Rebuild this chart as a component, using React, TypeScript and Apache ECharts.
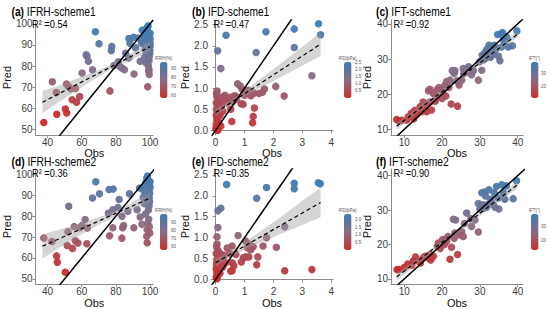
import React, { useEffect, useRef } from "react";
import * as echarts from "echarts";

const FONT = "'Liberation Sans', Arial, sans-serif";

// ---------- data (Obs, Pred) ----------
const pointsA = [[37.8,53.2],[42.8,72.5],[45.4,57.1],[45.2,67.4],[50.4,59.6],[51.2,57.7],[51.1,71.5],[52.2,70.3],[53.5,69.2],[54.4,64.0],[56.3,69.3],[57.0,62.8],[58.8,65.5],[60.2,76.7],[62.6,85.3],[63.1,84.6],[63.9,82.3],[66.3,78.2],[68.0,96.2],[70.1,90.6],[76.5,68.2],[77.3,87.3],[77.6,89.3],[78.9,80.2],[81.4,82.0],[82.3,79.8],[83.5,79.0],[85.0,78.2],[85.7,86.0],[87.5,83.8],[87.6,93.0],[88.2,90.8],[90.6,76.2],[90.4,93.6],[91.5,88.6],[93.2,93.3],[94.2,82.2],[95.0,90.8],[95.4,97.0],[96.3,91.5],[96.5,93.5],[97.0,95.0],[97.5,96.5],[98.0,97.5],[98.5,98.2],[99.0,96.0],[99.2,94.0],[99.5,92.5],[99.6,90.5],[99.7,89.0],[99.8,87.5],[99.8,86.0],[99.5,84.5],[99.4,82.5],[99.0,80.0],[99.3,78.5],[99.2,77.5],[99.5,76.0],[98.6,70.2],[97.5,81.5],[96.8,84.0],[97.2,88.0],[98.0,92.0],[98.8,99.0],[100,95.5],[100,93],[100,91],[100,89.5],[97.8,86.0],[98.7,83]];
const pointsB = [[0.36,2.25],[0.07,1.88],[0.18,1.46],[1.74,2.33],[1.4,1.84],[2.72,2.40],[2.72,1.96],[3.56,2.52],[3.63,2.26],[3.33,1.29],[2.08,1.04],[2.37,0.81],[1.69,0.98],[1.62,0.90],[1.50,0.87],[0.76,1.10],[0.85,1.05],[0.92,0.97],[1.13,0.95],[1.06,0.90],[1.00,0.83],[1.22,0.82],[1.32,0.88],[0.88,0.63],[1.34,0.53],[1.30,0.33],[1.28,0.18],[0.56,0.21],[0.52,0.50],[0.32,0.83],[0.44,0.77],[0.55,0.79],[0.66,0.82],[0.27,0.75],[0.15,0.70],[0.05,0.93],[0.03,0.88],[0.04,0.80],[0.08,0.72],[0.02,0.65],[0.06,0.60],[0.1,0.55],[0.03,0.50],[0.12,0.45],[0.05,0.40],[0.02,0.35],[0.08,0.30],[0.04,0.25],[0.1,0.20],[0.02,0.15],[0.06,0.10],[0.01,0.05],[0.03,0.02],[0.12,0.62],[0.2,0.58],[0.22,0.78],[0.6,0.68],[0.72,0.74],[0.95,0.62],[0.15,0.35],[0.25,0.45],[0.18,0.1],[0.08,0.0],[0.7,0.8],[0.4,0.65]];
const pointsC = [[8.0,12.8],[8.6,12.4],[9.3,12.6],[10.6,12.7],[11.1,13.6],[11.9,14.6],[12.5,13.0],[12.8,15.4],[13.3,14.2],[14.2,16.4],[14.5,15.0],[15.0,17.8],[15.7,16.4],[15.9,15.0],[16.4,21.0],[16.8,21.4],[16.8,17.8],[17.2,15.5],[17.7,20.2],[18.2,18.0],[18.6,19.3],[18.8,21.4],[19.2,21.9],[19.9,21.4],[20.3,20.2],[20.8,22.6],[21.2,23.6],[21.8,21.9],[22.1,24.0],[22.4,17.2],[22.7,26.7],[23.2,25.9],[23.4,26.7],[23.9,23.8],[24.1,16.6],[24.5,22.6],[25.2,24.0],[25.6,27.3],[25.7,25.9],[26.1,26.1],[27.0,27.8],[27.8,25.5],[28.3,26.7],[29.6,24.0],[29.9,29.2],[30.5,26.8],[30.6,31.1],[31.0,29.8],[31.3,31.7],[31.8,32.7],[32.2,32.1],[32.4,33.9],[32.8,30.5],[33.1,33.4],[33.6,31.5],[33.8,33.9],[34.2,32.7],[34.7,37.0],[34.9,30.8],[35.3,29.5],[35.6,37.2],[35.7,33.4],[36.0,37.5],[36.5,34.9],[37.1,36.3],[37.5,33.4],[38.6,33.8],[39.8,38.0],[31.5,30.2],[33.0,31.0],[36.2,35.5],[21.0,19.5],[20.0,18.8]];
const pointsD = [[37.8,69.6],[42.6,67.9],[45.3,61.0],[45.7,58.0],[50.4,53.2],[51.9,72.6],[52.4,84.8],[51.5,66.0],[54.6,64.6],[55.6,75.0],[56.2,68.3],[57.8,67.2],[58.9,74.6],[60.2,75.6],[62.0,78.4],[63.0,66.8],[63.3,74.3],[66.3,88.7],[68.2,96.5],[70.4,90.7],[76.0,92.8],[78.4,93.0],[76.3,70.6],[75.6,81.4],[78.2,83.1],[78.2,74.5],[81.9,88.0],[81.2,84.2],[83.5,80.0],[83.9,74.5],[83.5,69.5],[84.5,75.5],[87.9,90.7],[87.0,82.4],[90.5,74.5],[92.4,83.1],[93.9,93.5],[94.2,79.6],[95.2,76.1],[96.0,89.0],[96.5,92.0],[97.0,94.5],[97.5,96.0],[98.0,98.0],[98.5,99.2],[99.0,97.0],[99.3,95.0],[99.6,93.0],[99.8,91.0],[99.5,89.0],[99.7,87.0],[99.4,85.0],[99.0,83.0],[98.3,67.3],[98.0,70.4],[98.3,73.5],[98.6,76.6],[99.2,78.5],[99.6,75.0],[99.8,72.0],[97.3,81.0],[96.8,86.0],[98.8,90.0],[100,94.0],[100,96.5],[97.8,88.5]];
const pointsE = [[0.38,2.27],[0.08,1.64],[0.18,1.70],[1.76,2.20],[1.42,1.94],[2.72,2.30],[2.72,2.17],[3.55,2.31],[3.62,2.29],[2.39,1.26],[0.08,1.24],[0.05,1.02],[0.78,1.05],[1.03,0.92],[1.16,0.85],[1.10,0.76],[1.30,0.78],[1.76,1.00],[1.64,0.80],[2.10,0.77],[0.57,0.80],[0.40,0.75],[0.96,0.52],[1.04,0.54],[1.15,0.54],[1.21,0.71],[0.49,0.62],[0.26,0.52],[0.57,0.40],[0.89,0.42],[0.63,0.33],[0.57,0.21],[0.52,0.20],[1.46,0.54],[1.42,0.35],[2.39,0.21],[3.33,0.24],[0.05,0.85],[0.03,0.78],[0.08,0.70],[0.02,0.62],[0.06,0.56],[0.1,0.5],[0.04,0.45],[0.12,0.40],[0.03,0.35],[0.07,0.3],[0.02,0.25],[0.1,0.2],[0.04,0.15],[0.08,0.1],[0.02,0.05],[0.05,0.02],[0.15,0.62],[0.2,0.45],[0.25,0.3],[0.3,0.58],[0.15,0.15],[0.7,0.6],[0.35,0.4]];
const pointsF = [[8.1,12.7],[8.6,12.7],[10.0,13.3],[10.9,14.3],[12.4,15.2],[13.0,16.4],[13.7,15.2],[14.3,14.6],[15.0,16.1],[15.5,16.6],[16.4,16.1],[16.8,17.1],[17.2,16.1],[17.7,16.6],[17.0,15.5],[18.8,19.5],[19.0,20.4],[20.1,21.4],[20.6,20.0],[21.2,20.9],[21.6,22.3],[22.1,15.7],[22.5,19.2],[23.2,21.8],[23.4,23.3],[23.0,27.3],[23.6,27.1],[24.1,17.1],[24.7,22.8],[25.2,23.7],[25.6,22.3],[25.9,26.1],[26.5,29.1],[27.6,27.5],[27.8,25.2],[28.7,27.1],[29.6,23.6],[29.6,31.9],[30.0,30.3],[30.5,35.0],[31.2,35.2],[31.5,34.1],[31.8,30.8],[32.4,35.9],[32.9,33.1],[33.5,31.7],[34.4,36.8],[34.9,33.5],[35.0,30.3],[35.8,37.3],[36.2,35.0],[36.6,33.1],[37.0,37.0],[38.8,33.3],[39.7,38.5],[33.8,35.0],[32.2,31.7],[31.0,30.5],[30.8,31.5],[34.0,30.8],[21.0,21.5],[19.5,18.8],[12.0,14.0]];

// fitted regression lines [[x0,y0],[x1,y1]]
const fitA = [[37, 62.8], [100, 89.2]];
const fitB = [[0, 0.42], [3.63, 2.04]];
const fitC = [[8, 10.9], [40, 37.1]];
const fitD = [[37, 65.6], [100, 88.7]];
const fitE = [[0, 0.40], [3.63, 1.84]];
const fitF = [[8, 10.6], [40, 37.4]];

// confidence bands: x, lower, upper
const bandXA = [37, 45, 55, 65, 75, 85, 100];
const bandLoA = [57.5, 62.1, 67.2, 72.5, 77.5, 81.7, 86.7];
const bandHiA = [68.1, 70.3, 73.4, 76.5, 79.8, 84.0, 91.7];
const bandXB = [0, 0.5, 1, 1.5, 2, 2.5, 3, 3.63];
const bandLoB = [0.33, 0.58, 0.795, 0.99, 1.17, 1.35, 1.53, 1.76];
const bandHiB = [0.51, 0.70, 0.935, 1.19, 1.45, 1.71, 1.98, 2.32];
const bandXC = [8, 16, 24, 32, 40];
const bandLoC = [9.9, 16.9, 23.6, 30.05, 36.15];
const bandHiC = [11.9, 18.1, 24.4, 31.15, 38.05];
const bandXD = [37, 45, 55, 65, 75, 85, 100];
const bandLoD = [59.8, 63.9, 68.9, 73.7, 78.0, 81.7, 86.1];
const bandHiD = [71.4, 73.1, 75.5, 78.1, 81.0, 84.7, 91.3];
const bandXE = [0, 0.5, 1, 1.5, 2, 2.5, 3, 3.63];
const bandLoE = [0.30, 0.53, 0.71, 0.87, 1.01, 1.16, 1.30, 1.49];
const bandHiE = [0.50, 0.67, 0.89, 1.13, 1.37, 1.62, 1.88, 2.19];
const bandXF = [8, 16, 24, 32, 40];
const bandLoF = [9.5, 16.5, 23.2, 29.9, 36.3];
const bandHiF = [11.7, 17.8, 24.1, 31.0, 38.5];

const panelLetters = ["(a)", "(b)", "(c)", "(d)", "(e)", "(f)"];
const panelNames = ["IFRH-scheme1", "IFD-scheme1", "IFT-scheme1", "IFRH-scheme2", "IFD-scheme2", "IFT-scheme2"];
const r2Labels = ["0.54", "0.47", "0.92", "0.36", "0.35", "0.90"];
const legendTitles = ["IFRH(%)", "IFD(kPa)", "IFT(°)", "IFRH(%)", "IFD(kPa)", "IFT(°)"];
const xTickSets = [[40, 60, 80, 100], [0, 1, 2, 3, 4], [10, 20, 30, 40]];
const yTickSets = [[50, 60, 70, 80, 90, 100], [0, 0.5, 1, 1.5, 2, 2.5], [10, 20, 30, 40]];
const colorRanges = [[57, 97], [0, 2.55], [11.6, 38.2], [55, 100], [0, 2.35], [12.9, 38.6]];
const colorTicks = [[60, 70, 80, 90], [0.5, 1, 1.5, 2, 2.5], [20, 30], [60, 70, 80, 90], [0.5, 1, 1.5, 2], [20, 30]];

const allPoints = [pointsA, pointsB, pointsC, pointsD, pointsE, pointsF];
const allFits = [fitA, fitB, fitC, fitD, fitE, fitF];
const allBands = [
  [bandXA, bandLoA, bandHiA], [bandXB, bandLoB, bandHiB], [bandXC, bandLoC, bandHiC],
  [bandXD, bandLoD, bandHiD], [bandXE, bandLoE, bandHiE], [bandXF, bandLoF, bandHiF],
];

// ---------- layout ----------
const COLS = [
  { left: 29.5, width: 123.5, titleX: 11.5, cbLeft: 160, cbLabelX: 171 },
  { left: 211, width: 122, titleX: 192, cbLeft: 344, cbLabelX: 355 },
  { left: 391, width: 132, titleX: 376, cbLeft: 531, cbLabelX: 541 },
];
const ROWS = [
  { top: 20, height: 115, titleY: 12, cbTop: 62, cbH: 36 },
  { top: 169, height: 118, titleY: 162, cbTop: 214, cbH: 36 },
];
const XRANGES = [[33, 101.7], [-0.16, 4.06], [6.5, 41.4]];
const YRANGES = [
  [[47.3, 101.8], [-0.11, 2.61], [8.4, 41.1]],
  [[47.5, 102.6], [-0.11, 2.64], [8.5, 41.9]],
];
const COLORS = ["#c92d2d", "#8a6c84", "#3d7cb4"];

function fmtTick(col: number, v: number) {
  return col === 1 ? v.toFixed(1) : String(v);
}

function buildOption() {
  const grid: any[] = [];
  const xAxis: any[] = [];
  const yAxis: any[] = [];
  const series: any[] = [];
  const visualMap: any[] = [];
  const graphic: any[] = [];

  for (let p = 0; p < 6; p++) {
    const row = Math.floor(p / 3);
    const col = p % 3;
    const C = COLS[col];
    const R = ROWS[row];
    grid.push({ left: C.left, top: R.top, width: C.width, height: R.height, containLabel: false });
    const axisLine = { show: true, lineStyle: { color: "#8c8c8c", width: 1 } };
    const axisTick = { show: true, length: 3, lineStyle: { color: "#8c8c8c" } };
    xAxis.push({
      type: "value", gridIndex: p, min: XRANGES[col][0], max: XRANGES[col][1],
      name: "Obs", nameLocation: "middle", nameGap: 10,
      nameTextStyle: { fontFamily: FONT, fontSize: 11, color: "#111" },
      axisLine, splitLine: { show: false },
      axisTick: { ...axisTick, customValues: xTickSets[col] },
      axisLabel: { customValues: xTickSets[col], margin: 2, fontFamily: FONT, fontSize: 10, color: "#3d3d3d",
        formatter: (v: number) => String(v) },
    });
    yAxis.push({
      type: "value", gridIndex: p, min: YRANGES[row][col][0], max: YRANGES[row][col][1],
      name: "Pred", nameLocation: "middle", nameGap: 15, nameRotate: 90,
      nameTextStyle: { fontFamily: FONT, fontSize: 11, color: "#111" },
      axisLine, splitLine: { show: false },
      axisTick: { ...axisTick, customValues: yTickSets[col] },
      axisLabel: { customValues: yTickSets[col], margin: 3, fontFamily: FONT, fontSize: 10, color: "#3d3d3d",
        formatter: (v: number) => fmtTick(col, v) },
    });

    const scatterIndex = series.length;
    series.push({
      type: "scatter", xAxisIndex: p, yAxisIndex: p, data: allPoints[p],
      symbolSize: 7.5, itemStyle: { opacity: 0.95 }, silent: true,
    });
    const [bx, blo, bhi] = allBands[p];
    series.push({
      type: "custom", xAxisIndex: p, yAxisIndex: p, data: [[bx[0], blo[0]]], silent: true, clip: true,
      renderItem: (_params: any, api: any) => {
        const pts: number[][] = [];
        for (let i = 0; i < bx.length; i++) pts.push(api.coord([bx[i], bhi[i]]));
        for (let i = bx.length - 1; i >= 0; i--) pts.push(api.coord([bx[i], blo[i]]));
        return { type: "polygon", shape: { points: pts }, style: { fill: "#9a9a9a", opacity: 0.42 } };
      },
      z: 3,
    });
    series.push({
      type: "line", xAxisIndex: p, yAxisIndex: p, data: allFits[p], symbol: "none", silent: true,
      lineStyle: { color: "#000", width: 1.2, type: [4, 3] }, z: 4,
    });
    const lo = Math.min(XRANGES[col][0], YRANGES[row][col][0]);
    const hi = Math.max(XRANGES[col][1], YRANGES[row][col][1]);
    series.push({
      type: "line", xAxisIndex: p, yAxisIndex: p, data: [[lo, lo], [hi, hi]], symbol: "none", silent: true,
      clip: true, lineStyle: { color: "#000", width: 1.5 }, z: 5,
    });

    const [cmin, cmax] = colorRanges[p];
    visualMap.push({
      type: "continuous", seriesIndex: scatterIndex, dimension: 1, min: cmin, max: cmax,
      inRange: { color: COLORS }, calculable: false, hoverLink: false, orient: "vertical",
      left: C.cbLeft, top: R.cbTop, itemWidth: 7.5, itemHeight: R.cbH, padding: 0, text: null,
    });

    // colorbar tick labels & title
    for (const t of colorTicks[p]) {
      const y = R.cbTop + ((cmax - t) / (cmax - cmin)) * R.cbH;
      graphic.push({
        type: "text", x: C.cbLabelX, y,
        style: { text: col === 1 ? t.toFixed(1) : String(t), fontFamily: FONT, fontSize: 4.5, fill: "#555",
          verticalAlign: "middle" },
        silent: true,
      });
    }
    graphic.push({
      type: "text", x: C.cbLeft + 3.5, y: R.cbTop - 4,
      style: { text: legendTitles[p], fontFamily: FONT, fontSize: 4.5, fill: "#555", align: "center", verticalAlign: "middle" },
      silent: true,
    });

    // panel title
    graphic.push({
      type: "text", x: C.titleX, y: R.titleY, scaleX: 0.8,
      style: {
        text: `{b|${panelLetters[p]}} ${panelNames[p]}`,
        fontFamily: FONT, fontSize: 12.8, fill: "#000", verticalAlign: "middle",
        rich: { b: { fontFamily: FONT, fontSize: 12.8, fontWeight: "bold", fill: "#000" } },
      },
      silent: true,
    });
    // R2
    graphic.push({
      type: "text", x: C.left + 2.5, y: R.top + 4, scaleX: 0.84,
      style: { text: `R² =${r2Labels[p]}`, fontFamily: FONT, fontSize: 11, fill: "#000", verticalAlign: "middle" },
      silent: true, z: 10,
    });
  }

  return { animation: false, backgroundColor: "#fff", grid, xAxis, yAxis, series, visualMap, graphic };
}

export default function App() {
  const ref = useRef<HTMLDivElement>(null);
  useEffect(() => {
    if (!ref.current) return;
    const chart = echarts.init(ref.current, undefined, { renderer: "svg" });
    chart.setOption(buildOption() as any);
    return () => chart.dispose();
  }, []);
  return <div ref={ref} style={{ position: "fixed", left: 0, top: 0, width: 550, height: 309, background: "#fff" }} />;
}
